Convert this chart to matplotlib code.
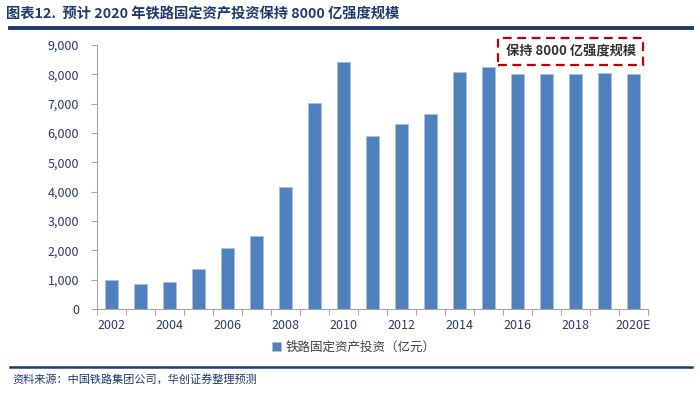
import matplotlib
matplotlib.use('Agg')
import matplotlib.pyplot as plt
import matplotlib.ticker as mticker
from matplotlib.patches import Rectangle
from matplotlib.lines import Line2D

plt.rcParams['font.family'] = ['Noto Sans CJK SC', 'DejaVu Sans']

# =============================================================================
# DATA
# =============================================================================
years = ['2002', '2003', '2004', '2005', '2006', '2007', '2008', '2009', '2010',
         '2011', '2012', '2013', '2014', '2015', '2016', '2017', '2018', '2019', '2020E']
invest = [975, 860, 905, 1363, 2088, 2492, 4168, 7013, 8427,
          5906, 6310, 6657, 8088, 8238, 8015, 8010, 8028, 8029, 8000]
y_ticks = [0, 1000, 2000, 3000, 4000, 5000, 6000, 7000, 8000, 9000]

title_text = '图表12.  预计 2020 年铁路固定资产投资保持 8000 亿强度规模'
note_text = '保持 8000 亿强度规模'
legend_text = '铁路固定资产投资（亿元）'
source_text = '资料来源：中国铁路集团公司，华创证券整理预测'

NAVY = '#1F3A6E'
BAR = '#4F81BD'
LABEL = '#2B3A67'

fig = plt.figure(figsize=(7, 3.95), dpi=100)
ax = fig.add_axes([97 / 700, 1 - 309 / 395, (648 - 97) / 700, (309 - 45) / 395])

x = list(range(len(years)))
bars = ax.bar(x, invest, width=0.43, color=BAR, edgecolor='#A9C0DE', linewidth=0.6,
              label=legend_text)

ax.set_xlim(-0.5, len(years) - 0.5)
ax.set_ylim(0, 9000)
ax.set_yticks(y_ticks)
ax.yaxis.set_major_formatter(mticker.FuncFormatter(lambda v, p: f'{v:,.0f}'))

# category labels every second year, tick marks at every category boundary
ax.set_xticks(x[::2])
ax.set_xticklabels(years[::2])
ax.set_xticks([i - 0.5 for i in range(len(years) + 1)], minor=True)
ax.tick_params(axis='x', which='major', length=0, pad=7, labelsize=9, labelcolor=LABEL)
ax.tick_params(axis='x', which='minor', length=4, color='#A6A6A6', width=0.8)
ax.tick_params(axis='y', length=4, color='#A6A6A6', width=0.8, pad=9,
               labelsize=9, labelcolor=LABEL)

for s in ['top', 'right']:
    ax.spines[s].set_visible(False)
for s in ['left', 'bottom']:
    ax.spines[s].set_color('#A6A6A6')
    ax.spines[s].set_linewidth(0.8)

# dashed annotation box, sitting above the flat 8000 bars
ax.add_patch(Rectangle((13.33, 8320), 5.0, 920, transform=ax.transData, fill=False,
                       edgecolor='#C00000', linestyle=(0, (4, 2.5)), linewidth=1.6,
                       clip_on=False))
ax.text(15.83, 8790, note_text, ha='center', va='center', fontsize=9.5,
        fontweight='bold', color='#333333')

ax.legend(handles=[bars], loc='center', bbox_to_anchor=(354 / 700, 1 - 347 / 395),
          bbox_transform=fig.transFigure, frameon=False, fontsize=9,
          handlelength=0.7, handleheight=0.7, handletextpad=0.4, labelcolor='#404040')

# title and source
fig.text(6 / 700, 1 - 14 / 395, title_text, ha='left', va='center', fontsize=10.3,
         fontweight='bold', color=NAVY)
fig.add_artist(Line2D([10 / 700, 692 / 700], [1 - 28 / 395] * 2, color=NAVY, linewidth=2.8))
fig.add_artist(Line2D([10 / 700, 692 / 700], [1 - 367 / 395] * 2, color=NAVY, linewidth=1.8))
fig.text(12 / 700, 1 - 379 / 395, source_text, ha='left', va='center', fontsize=8,
         style='italic', color=NAVY)

fig.savefig('out.png', dpi=100)
plt.close(fig)
